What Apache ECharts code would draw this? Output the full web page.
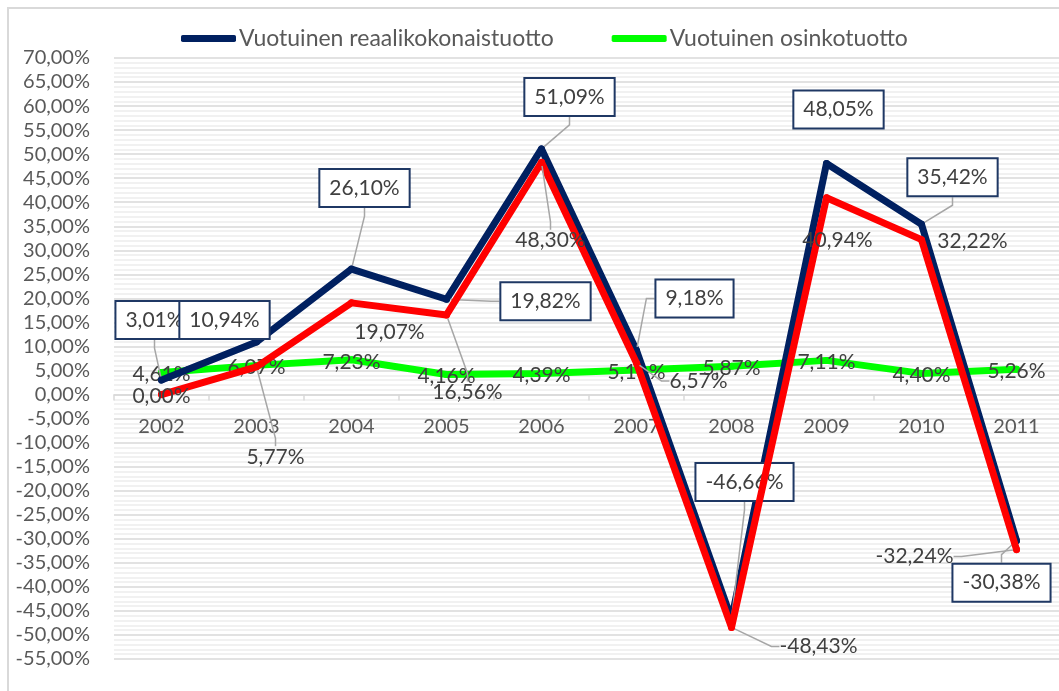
<!DOCTYPE html>
<html>
<head>
<meta charset="utf-8">
<script src="https://cdn.jsdelivr.net/npm/echarts@6/dist/echarts.min.js"></script>
<style>
html,body{margin:0;padding:0;background:#fff;}
#chart{width:1059px;height:691px;}
</style>
</head>
<body>
<div id="chart"></div>
<script>
const years = ['2002','2003','2004','2005','2006','2007','2008','2009','2010','2011'];
const realTotal = [3.01, 10.94, 26.10, 19.82, 51.09, 9.18, -46.66, 48.05, 35.42, -30.38];
const nominalTotal = [0.00, 5.77, 19.07, 16.56, 48.30, 6.57, -48.43, 40.94, 32.22, -32.24];
const dividend = [4.61, 6.07, 7.23, 4.16, 4.39, 5.11, 5.87, 7.11, 4.40, 5.26];
const yMin = -55, yMax = 70, yStep = 5;

// label placement offsets (label centre relative to point, px) and leader-line flags
const realLabelOffset = [[-7,-60],[-32,-22],[13,-81],[99,2],[28,-52],[58,-52],[13,-137],[12,-54],[31,-47],[-15,42]];
const realLeader = [true,false,true,true,true,true,true,false,true,true];
const nomLabelOffset = [[0,2],[19,90],[38,29],[21,77],[9,78],[62,18],[87,19],[11,43],[51,2],[-102,7]];
const nomLeader = [false,true,false,true,true,true,true,false,false,true];

const FONT = 'Lato, "Noto Sans", sans-serif';
const fmt = v => v.toFixed(2).replace('.', ',') + '%';

function makeData(vals, leaders) {
  return vals.map((v, i) => ({ value: v, labelLine: { show: !!(leaders && leaders[i]) } }));
}
function layoutFor(offsets) {
  return function (p) {
    const o = offsets[p.dataIndex];
    const cx = p.rect.x + p.rect.width / 2;
    const cy = p.rect.y + p.rect.height / 2;
    return { x: cx + o[0], y: cy + o[1], align: 'center', verticalAlign: 'middle' };
  };
}
const leaderStyle = { show: false, length2: 8, lineStyle: { color: '#A6A6A6', width: 1.5 } };

const chart = echarts.init(document.getElementById('chart'), null, { renderer: 'canvas' });
chart.setOption({
  backgroundColor: '#ffffff',
  animation: false,
  textStyle: { fontFamily: FONT },
  graphic: [{
    type: 'rect', z: -10, silent: true,
    shape: { x: 8, y: 8, width: 1200, height: 1000 },
    style: { fill: 'none', stroke: '#D9D9D9', lineWidth: 2 }
  }],
  legend: {
    left: 176, top: 22,
    itemWidth: 55, itemHeight: 7, itemGap: 58,
    icon: 'roundRect',
    data: ['Vuotuinen reaalikokonaistuotto', 'Vuotuinen osinkotuotto'],
    textStyle: { fontFamily: FONT, fontSize: 23, color: '#595959', padding: [0, 0, 0, -2] }
  },
  grid: { left: 114, right: -5, top: 58, bottom: 32, containLabel: false, outerBoundsMode: 'none' },
  xAxis: {
    type: 'category',
    data: years,
    boundaryGap: true,
    axisLine: { onZero: false, lineStyle: { color: '#D9D9D9', width: 1.5 } },
    axisTick: { show: true, alignWithLabel: false, length: 6, lineStyle: { color: '#D9D9D9', width: 1.5 } },
    axisLabel: { margin: 22, fontSize: 20, color: '#595959', fontFamily: FONT }
  },
  yAxis: {
    type: 'value',
    min: yMin, max: yMax, interval: yStep,
    axisLine: { show: false },
    axisTick: { show: false },
    axisLabel: { margin: 24, fontSize: 20, color: '#595959', fontFamily: FONT, formatter: v => fmt(v) },
    splitLine: { show: true, lineStyle: { color: '#D9D9D9', width: 1.5 } },
    minorTick: { show: false, splitNumber: 5 },
    minorSplitLine: { show: true, lineStyle: { color: '#EDEDED', width: 1.5 } }
  },
  series: [
    {
      name: 'Vuotuinen osinkotuotto',
      type: 'line',
      data: makeData(dividend, null),
      color: '#00FF00',
      lineStyle: { width: 7, color: '#00FF00', cap: 'round', join: 'round' },
      symbol: 'circle', symbolSize: 7,
      itemStyle: { color: '#00FF00' },
      z: 2,
      label: {
        show: true, position: 'inside', offset: [0, 2],
        fontSize: 21, color: '#404040', fontFamily: FONT,
        formatter: p => fmt(p.value)
      }
    },
    {
      name: 'Vuotuinen reaalikokonaistuotto',
      type: 'line',
      data: makeData(realTotal, realLeader),
      color: '#002060',
      lineStyle: { width: 7, color: '#002060', cap: 'round', join: 'round' },
      symbol: 'circle', symbolSize: 7,
      itemStyle: { color: '#002060' },
      z: 3,
      label: {
        show: true, position: 'inside',
        fontSize: 21, color: '#404040', fontFamily: FONT,
        backgroundColor: '#ffffff', borderColor: '#1F3864', borderWidth: 2,
        padding: [8, 9, 7, 9],
        formatter: p => fmt(p.value)
      },
      labelLine: leaderStyle,
      labelLayout: layoutFor(realLabelOffset)
    },
    {
      name: 'Vuotuinen kokonaistuotto',
      type: 'line',
      data: makeData(nominalTotal, nomLeader),
      color: '#FF0000',
      lineStyle: { width: 7, color: '#FF0000', cap: 'round', join: 'round' },
      symbol: 'circle', symbolSize: 7,
      itemStyle: { color: '#FF0000' },
      z: 4,
      label: {
        show: true, position: 'inside',
        fontSize: 21, color: '#404040', fontFamily: FONT,
        formatter: p => fmt(p.value)
      },
      labelLine: leaderStyle,
      labelLayout: layoutFor(nomLabelOffset)
    }
  ]
});
// place the category axis on the value axis' zero line, using the library's own scale
const zeroPx = chart.convertToPixel({ yAxisIndex: 0 }, 0);
const bottomPx = chart.convertToPixel({ yAxisIndex: 0 }, yMin);
chart.setOption({ xAxis: { offset: -(bottomPx - zeroPx) } });
</script>
</body>
</html>
